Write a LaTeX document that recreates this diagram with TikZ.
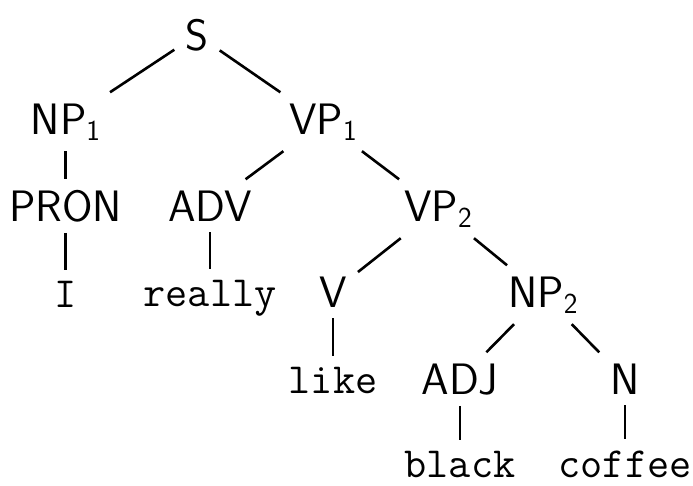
\documentclass[tikz,border=0pt]{standalone}
\newcommand\tsub[1]{\raisebox{-6pt}{\fontsize{29}{32}\selectfont #1}}
\begin{document}
\begin{tikzpicture}[x=1pt,y=-1pt,
  cat/.style={anchor=base,inner sep=11pt,font=\fontsize{44}{52}\selectfont\sffamily},
  leaf/.style={anchor=base,inner sep=11pt,font=\fontsize{43}{52}\selectfont\ttfamily},
  edge/.style={line width=2.6pt}]
\useasboundingbox (0,0) rectangle (693,485);
\node[cat] (S) at (197,50) {S};
\node[cat] (NP1) at (65.5,134) {NP\tsub{1}};
\node[cat] (VP1) at (323,134) {VP\tsub{1}};
\node[cat] (PRON) at (65.5,221) {PRON};
\node[cat] (ADV) at (210,221) {ADV};
\node[cat] (VP2) at (438,221) {VP\tsub{2}};
\node[leaf] (I) at (65.5,307) {I};
\node[leaf] (really) at (210,306) {really};
\node[cat] (V) at (333,307) {V};
\node[cat] (NP2) at (543,307) {NP\tsub{2}};
\node[leaf] (like) at (333,393) {like};
\node[cat] (ADJ) at (460,394) {ADJ};
\node[cat] (N) at (625,394) {N};
\node[leaf] (black) at (460,477) {black};
\node[leaf] (coffee) at (625,477) {coffee};
\draw[edge] (S) -- (NP1);
\draw[edge] (S) -- (VP1);
\draw[edge] (NP1) -- (PRON);
\draw[edge] (PRON) -- (I);
\draw[edge] (VP1) -- (ADV);
\draw[edge] (VP1) -- (VP2);
\draw[edge] (ADV) -- (really);
\draw[edge] (VP2) -- (V);
\draw[edge] (VP2) -- (NP2);
\draw[edge] (V) -- (like);
\draw[edge] (NP2) -- (ADJ);
\draw[edge] (NP2) -- (N);
\draw[edge] (ADJ) -- (black);
\draw[edge] (N) -- (coffee);
\end{tikzpicture}
\end{document}
